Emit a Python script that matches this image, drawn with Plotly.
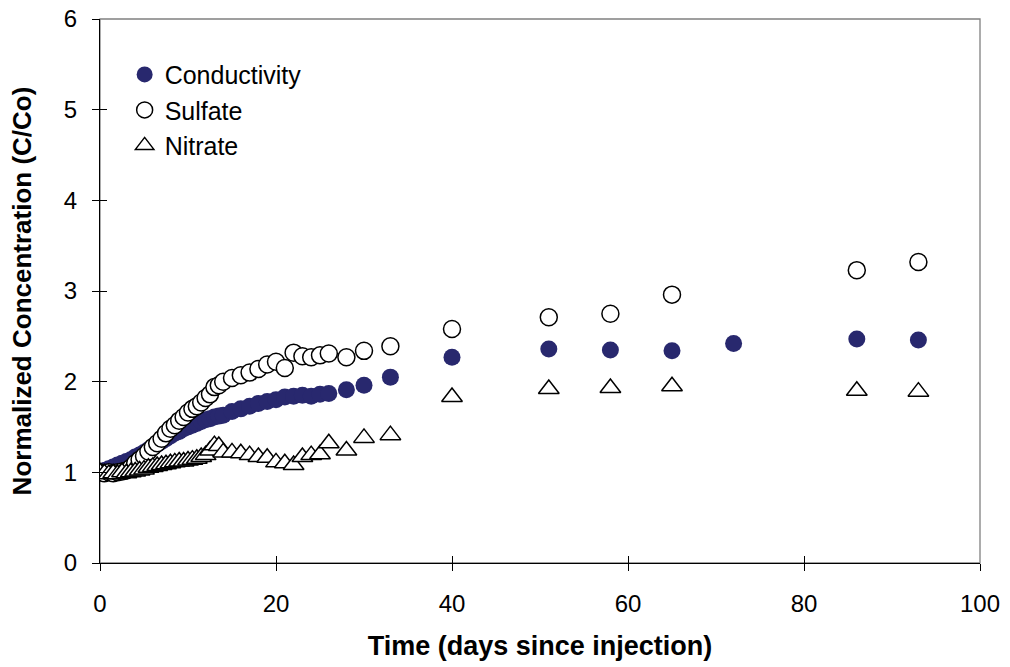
import plotly.graph_objects as go

# ---- data ----
days = [0, 0.5, 1, 1.5, 2, 2.5, 3, 3.5, 4, 4.5, 5, 5.5, 6, 6.5, 7, 7.5, 8, 8.5, 9, 9.5,
        10, 10.5, 11, 11.5, 12, 12.5, 13, 13.5, 14,
        15, 16, 17, 18, 19, 20, 21, 22, 23, 24, 25, 26,
        28, 30, 33, 40, 51, 58, 65, 72, 86, 93]

conductivity = [1.00, 1.02, 1.04, 1.06, 1.08, 1.10, 1.12, 1.14, 1.17, 1.19, 1.22, 1.25, 1.28, 1.31, 1.34, 1.37, 1.40, 1.43, 1.45, 1.48,
                1.50, 1.52, 1.54, 1.56, 1.58, 1.59, 1.61, 1.62, 1.63,
                1.67, 1.70, 1.73, 1.76, 1.78, 1.80, 1.83, 1.84, 1.85, 1.84, 1.86, 1.87,
                1.91, 1.96, 2.05, 2.27, 2.36, 2.35, 2.34, 2.42, 2.47, 2.46]

sulfate = [1.00, 0.99, 1.00, 0.99, 1.00, 1.01, 1.02, 1.05, 1.10, 1.14, 1.18, 1.23, 1.28, 1.32, 1.37, 1.43, 1.48, 1.52, 1.57, 1.61,
           1.66, 1.70, 1.73, 1.77, 1.82, 1.86, 1.94, 1.96, 2.00,
           2.04, 2.07, 2.10, 2.14, 2.19, 2.22, 2.15, 2.32, 2.28, 2.27, 2.29, 2.31,
           2.27, 2.34, 2.39, 2.58, 2.71, 2.75, 2.96, None, 3.23, 3.32]

nitrate = [1.00, 0.99, 0.98, 0.99, 0.98, 1.00, 0.99, 1.00, 1.01, 1.02, 1.03, 1.05, 1.06, 1.07, 1.08, 1.09, 1.10, 1.11, 1.12, 1.12,
           1.13, 1.14, 1.15, 1.17, 1.19, 1.24, 1.30, 1.29, 1.22,
           1.22, 1.21, 1.19, 1.17, 1.16, 1.11, 1.10, 1.08, 1.17, 1.19, 1.20, 1.32,
           1.24, 1.38, 1.41, 1.83, 1.92, 1.93, 1.95, None, 1.90, 1.89]

x_ticks = [0, 20, 40, 60, 80, 100]
y_ticks = [0, 1, 2, 3, 4, 5, 6]

NAVY = "#28286E"
FONT = "Liberation Sans, Arial, sans-serif"

fig = go.Figure()
fig.add_trace(go.Scatter(x=days, y=conductivity, mode="markers", name="Conductivity",
                         marker=dict(symbol="circle", size=17, color=NAVY, line=dict(width=0))))
fig.add_trace(go.Scatter(x=days, y=sulfate, mode="markers", name="Sulfate",
                         marker=dict(symbol="circle", size=17, color="white", line=dict(color="black", width=1.5))))
fig.add_trace(go.Scatter(x=days, y=nitrate, mode="markers", name="Nitrate",
                         marker=dict(symbol="triangle-up", size=18, color="white", line=dict(color="black", width=1.5))))
# empty trace to activate the overlay axes (used for inner half of crossing ticks)
fig.add_trace(go.Scatter(x=[], y=[], xaxis="x2", yaxis="y2", showlegend=False, hoverinfo="skip"))

axis_common = dict(showgrid=False, zeroline=False, showline=True, linecolor="black", linewidth=1.3,
                   ticks="outside", ticklen=7, tickwidth=1.3, tickcolor="black", automargin=False,
                   tickfont=dict(family=FONT, size=24, color="black"))

fig.update_layout(
    width=1010, height=667,
    margin=dict(l=100, r=30, t=19, b=104),
    plot_bgcolor="white", paper_bgcolor="white",
    xaxis=dict(range=[0, 100], tickvals=x_ticks, ticklabelstandoff=12,
               title=dict(text="<b>Time (days since injection)</b>", font=dict(family=FONT, size=27, color="black"), standoff=20),
               **axis_common),
    yaxis=dict(range=[0, 6], tickvals=y_ticks, ticklabelstandoff=10,
               title=dict(text="<b>Normalized Concentration (C/Co)</b>", font=dict(family=FONT, size=26, color="black"), standoff=24),
               **axis_common),
    xaxis2=dict(range=[0, 100], tickvals=x_ticks, overlaying="x", anchor="y2", showticklabels=False, automargin=False,
                showgrid=False, zeroline=False, showline=False, ticks="inside", ticklen=7, tickwidth=1.3, tickcolor="black"),
    yaxis2=dict(range=[0, 6], tickvals=y_ticks, overlaying="y", anchor="x2", showticklabels=False, automargin=False,
                showgrid=False, zeroline=False, showline=False, ticks="inside", ticklen=7, tickwidth=1.3, tickcolor="black"),
    legend=dict(x=0.028, y=0.94, xanchor="left", yanchor="top", bgcolor="rgba(0,0,0,0)",
                font=dict(family=FONT, size=25, color="black"), itemwidth=30, tracegroupgap=0),
    shapes=[dict(type="rect", xref="x domain", yref="y domain", x0=0, x1=1, y0=0, y1=1,
                 line=dict(color="#808080", width=1.3), layer="below")],
    showlegend=True,
)

fig.write_html("out.html")
